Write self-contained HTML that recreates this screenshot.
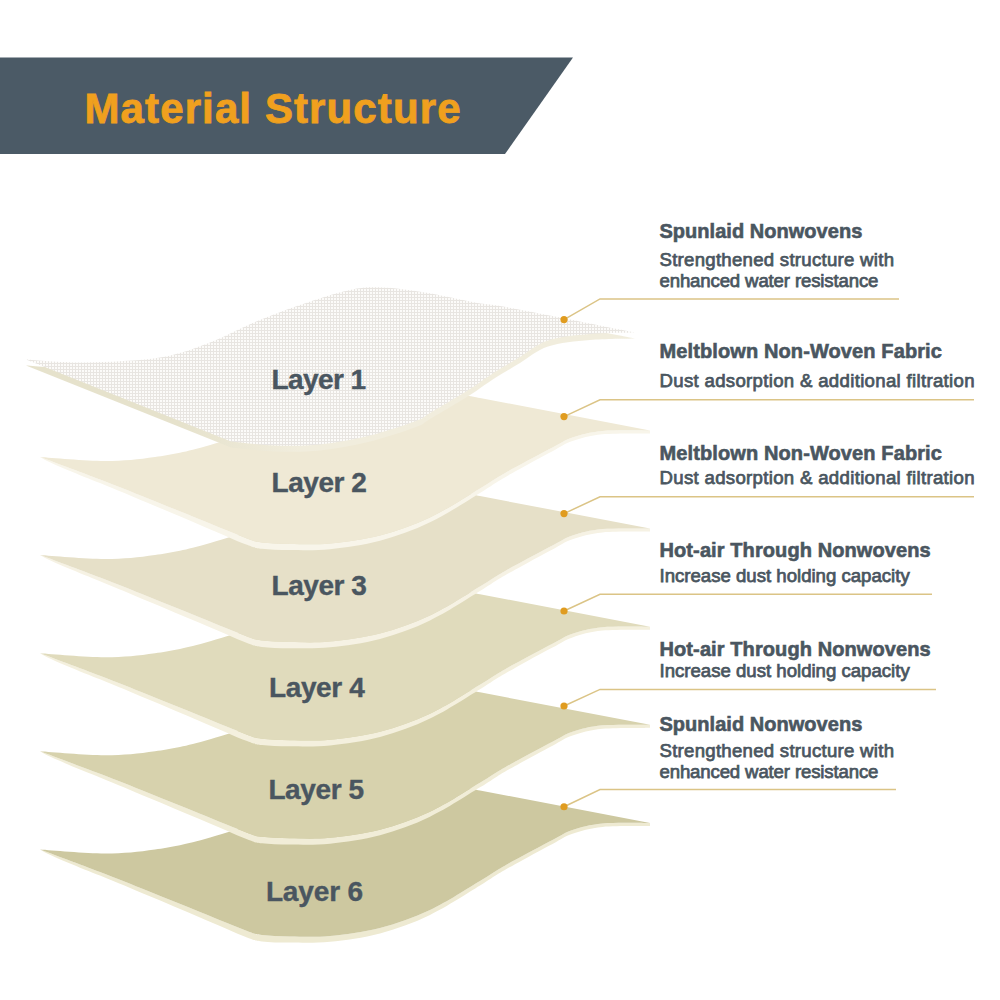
<!DOCTYPE html>
<html><head><meta charset="utf-8"><style>
html,body{margin:0;padding:0;background:#fff;}
body{width:1000px;height:1000px;overflow:hidden;position:relative;}
svg{position:absolute;left:0;top:0;}
text{font-family:"Liberation Sans",sans-serif;}
.title{font-size:42px;font-weight:bold;fill:#f0a01e;stroke:#f0a01e;stroke-width:0.8px;}
.lab{font-size:28px;font-weight:bold;fill:#4a5660;stroke:#4a5660;stroke-width:0.4px;}
.tt{font-size:20px;font-weight:bold;fill:#4a5660;stroke:#4a5660;stroke-width:0.6px;}
.ds{font-size:18.6px;fill:#4a5660;stroke:#4a5660;stroke-width:0.75px;}
</style></head><body>
<svg width="1000" height="1000" viewBox="0 0 1000 1000">
<defs>
<pattern id="mesh" width="3" height="3" patternUnits="userSpaceOnUse">
<rect width="3" height="3" fill="#e8e5e1"/>
<rect x="1" y="1" width="2" height="2" fill="#fcfbf9"/>
</pattern>
<linearGradient id="l1edge" gradientUnits="userSpaceOnUse" x1="180" y1="0" x2="300" y2="0">
<stop offset="0" stop-color="#e6e2cc"/><stop offset="1" stop-color="#f1eddd"/>
</linearGradient>
</defs>
<polygon points="0,57.6 573,57.6 505,154 0,154" fill="#4b5a66"/>
<text x="84.5" y="122.8" class="title" textLength="376" lengthAdjust="spacing">Material Structure</text>
<defs><path id="lay" d="M 40.0 849.5 C 50.8 850.2 85.8 853.5 105.0 853.5 C 124.2 853.5 138.3 851.9 155.0 849.5 C 171.7 847.1 180.8 845.6 205.0 839.0 C 229.2 832.4 270.8 818.5 300.0 810.0 C 329.2 801.5 358.3 792.5 380.0 788.0 C 401.7 783.5 413.3 782.6 430.0 783.0 C 446.7 783.4 471.7 789.2 480.0 790.5 L 650 823 C 642.1 823.1 615.4 822.3 602.5 823.5 C 589.6 824.7 580.8 827.2 572.5 830.0 C 564.2 832.8 562.1 835.0 552.5 840.0 C 542.9 845.0 524.2 855.0 515.0 860.0 C 505.8 865.0 503.3 866.5 497.5 870.0 C 491.7 873.5 491.2 874.3 480.0 881.0 C 468.8 887.7 446.7 902.2 430.0 910.0 C 413.3 917.8 396.7 923.7 380.0 928.0 C 363.3 932.3 345.0 934.6 330.0 936.0 C 315.0 937.4 301.3 936.7 290.0 936.5 C 278.7 936.3 269.2 935.9 262.0 935.0 C 254.8 934.1 257.3 934.8 247.0 931.0 C 236.7 927.2 216.5 918.7 200.0 912.0 C 183.5 905.3 164.7 897.7 148.0 891.0 C 131.3 884.3 118.0 878.9 100.0 872.0 C 82.0 865.1 50.0 853.2 40.0 849.5 Z"/><path id="edg" d="M 40 849.5 C 50.0 855.9 82.0 868.4 100.0 875.6 C 118.0 882.9 131.3 888.6 148.0 895.6 C 164.7 902.5 183.5 910.6 200.0 917.5 C 216.5 924.5 236.7 933.5 247.0 937.4 C 257.3 941.4 254.8 940.5 262.0 941.4 C 269.2 942.3 278.7 942.6 290.0 942.6 C 301.3 942.7 315.0 943.3 330.0 941.8 C 345.0 940.3 363.3 937.8 380.0 933.4 C 396.7 928.9 413.3 922.9 430.0 914.9 C 446.7 906.9 468.8 892.3 480.0 885.5 C 491.2 878.7 491.7 877.9 497.5 874.3 C 503.3 870.8 505.8 869.3 515.0 864.2 C 524.2 859.1 542.9 848.9 552.5 843.9 C 562.1 838.8 564.2 836.5 572.5 833.7 C 580.8 830.9 589.6 828.2 602.5 826.9 C 615.4 825.6 642.1 826.2 650.0 826.0 L 650 823 C 642.1 823.1 615.4 822.3 602.5 823.5 C 589.6 824.7 580.8 827.2 572.5 830.0 C 564.2 832.8 562.1 835.0 552.5 840.0 C 542.9 845.0 524.2 855.0 515.0 860.0 C 505.8 865.0 503.3 866.5 497.5 870.0 C 491.7 873.5 491.2 874.3 480.0 881.0 C 468.8 887.7 446.7 902.2 430.0 910.0 C 413.3 917.8 396.7 923.7 380.0 928.0 C 363.3 932.3 345.0 934.6 330.0 936.0 C 315.0 937.4 301.3 936.7 290.0 936.5 C 278.7 936.3 269.2 935.9 262.0 935.0 C 254.8 934.1 257.3 934.8 247.0 931.0 C 236.7 927.2 216.5 918.7 200.0 912.0 C 183.5 905.3 164.7 897.7 148.0 891.0 C 131.3 884.3 118.0 878.9 100.0 872.0 C 82.0 865.1 50.0 853.2 40.0 849.5 Z"/></defs>
<g transform="translate(0 0.00)"><use href="#edg" fill="#eeead2"/><use href="#lay" fill="#cdc8a0"/></g>
<g transform="translate(0 -98.15)"><use href="#edg" fill="#f1edd8"/><use href="#lay" fill="#d7d2ad"/></g>
<g transform="translate(0 -196.30)"><use href="#edg" fill="#f4f0de"/><use href="#lay" fill="#e0dbbc"/></g>
<g transform="translate(0 -294.45)"><use href="#edg" fill="#f6f2e4"/><use href="#lay" fill="#e6e0c8"/></g>
<g transform="translate(0 -392.60)"><use href="#edg" fill="#f8f5ea"/><use href="#lay" fill="#efe9d5"/></g>
<path d="M 26.0 359.5 C 35.8 360.0 62.7 362.8 85.0 362.5 C 107.3 362.2 139.2 360.8 160.0 357.5 C 180.8 354.2 194.2 348.4 210.0 342.5 C 225.8 336.6 240.0 328.2 255.0 322.0 C 270.0 315.8 284.2 310.3 300.0 305.0 C 315.8 299.7 336.2 292.9 350.0 290.0 C 363.8 287.1 370.0 287.1 382.5 287.5 C 395.0 287.9 409.6 290.0 425.0 292.5 C 440.4 295.0 462.5 300.2 475.0 302.5 C 487.5 304.8 485.8 303.5 500.0 306.0 C 514.2 308.5 540.5 313.7 560.0 317.5 C 579.5 321.3 604.5 326.5 617.0 329.0 C 629.5 331.5 632.0 331.9 635.0 332.5 C 627.5 332.8 604.5 332.7 590.0 334.0 C 575.5 335.3 559.7 336.7 548.0 340.5 C 536.3 344.3 529.3 351.4 520.0 357.0 C 510.7 362.6 500.3 368.7 492.0 374.0 C 483.7 379.3 480.3 382.5 470.0 389.0 C 459.7 395.5 439.0 407.7 430.0 413.0 C 421.0 418.3 426.3 417.2 416.0 421.0 C 405.7 424.8 384.0 432.1 368.0 436.0 C 352.0 439.9 335.5 442.9 320.0 444.5 C 304.5 446.1 289.8 446.0 275.0 445.5 C 260.2 445.0 238.3 442.2 231.0 441.5 Z" transform="translate(0 6)" fill="url(#l1edge)"/>
<path d="M 26.0 359.5 C 35.8 360.0 62.7 362.8 85.0 362.5 C 107.3 362.2 139.2 360.8 160.0 357.5 C 180.8 354.2 194.2 348.4 210.0 342.5 C 225.8 336.6 240.0 328.2 255.0 322.0 C 270.0 315.8 284.2 310.3 300.0 305.0 C 315.8 299.7 336.2 292.9 350.0 290.0 C 363.8 287.1 370.0 287.1 382.5 287.5 C 395.0 287.9 409.6 290.0 425.0 292.5 C 440.4 295.0 462.5 300.2 475.0 302.5 C 487.5 304.8 485.8 303.5 500.0 306.0 C 514.2 308.5 540.5 313.7 560.0 317.5 C 579.5 321.3 604.5 326.5 617.0 329.0 C 629.5 331.5 632.0 331.9 635.0 332.5 C 627.5 332.8 604.5 332.7 590.0 334.0 C 575.5 335.3 559.7 336.7 548.0 340.5 C 536.3 344.3 529.3 351.4 520.0 357.0 C 510.7 362.6 500.3 368.7 492.0 374.0 C 483.7 379.3 480.3 382.5 470.0 389.0 C 459.7 395.5 439.0 407.7 430.0 413.0 C 421.0 418.3 426.3 417.2 416.0 421.0 C 405.7 424.8 384.0 432.1 368.0 436.0 C 352.0 439.9 335.5 442.9 320.0 444.5 C 304.5 446.1 289.8 446.0 275.0 445.5 C 260.2 445.0 238.3 442.2 231.0 441.5 Z" fill="url(#mesh)"/>
<text x="271.6" y="389.4" class="lab" textLength="94.6" lengthAdjust="spacing">Layer 1</text>
<text x="271.6" y="492.2" class="lab" textLength="95.2" lengthAdjust="spacing">Layer 2</text>
<text x="271.6" y="594.8" class="lab" textLength="95.2" lengthAdjust="spacing">Layer 3</text>
<text x="269" y="696.8" class="lab" textLength="95.8" lengthAdjust="spacing">Layer 4</text>
<text x="268.4" y="799.4" class="lab" textLength="95.8" lengthAdjust="spacing">Layer 5</text>
<text x="265.9" y="901" class="lab" textLength="97.2" lengthAdjust="spacing">Layer 6</text>
<polyline points="564,319.6 600,298.9 899,298.9" fill="none" stroke="#dbc486" stroke-width="1.5"/>
<circle cx="564" cy="319.6" r="3.6" fill="#e09c20"/>
<polyline points="564,416.6 600,399.8 974,399.8" fill="none" stroke="#dbc486" stroke-width="1.5"/>
<circle cx="564" cy="416.6" r="3.6" fill="#e09c20"/>
<polyline points="564,513.6 600,496.8 974,496.8" fill="none" stroke="#dbc486" stroke-width="1.5"/>
<circle cx="564" cy="513.6" r="3.6" fill="#e09c20"/>
<polyline points="564,611 600,594.2 932,594.2" fill="none" stroke="#dbc486" stroke-width="1.5"/>
<circle cx="564" cy="611" r="3.6" fill="#e09c20"/>
<polyline points="564,706 600,689.4 936,689.4" fill="none" stroke="#dbc486" stroke-width="1.5"/>
<circle cx="564" cy="706" r="3.6" fill="#e09c20"/>
<polyline points="564,806.75 600,789.5 896,789.5" fill="none" stroke="#dbc486" stroke-width="1.5"/>
<circle cx="564" cy="806.75" r="3.6" fill="#e09c20"/>
<text x="659.5" y="238.4" class="tt" textLength="202.8" lengthAdjust="spacing">Spunlaid Nonwovens</text>
<text x="659.5" y="265.7" class="ds" textLength="234.5" lengthAdjust="spacing">Strengthened structure with</text>
<text x="659.5" y="286.5" class="ds" textLength="218.9" lengthAdjust="spacing">enhanced water resistance</text>
<text x="659.5" y="358.0" class="tt" textLength="282.4" lengthAdjust="spacing">Meltblown Non-Woven Fabric</text>
<text x="659.5" y="386.7" class="ds" textLength="315.0" lengthAdjust="spacing">Dust adsorption &amp; additional filtration</text>
<text x="659.5" y="459.5" class="tt" textLength="282.4" lengthAdjust="spacing">Meltblown Non-Woven Fabric</text>
<text x="659.5" y="484.0" class="ds" textLength="315.0" lengthAdjust="spacing">Dust adsorption &amp; additional filtration</text>
<text x="659.5" y="557.3" class="tt" textLength="271.2" lengthAdjust="spacing">Hot-air Through Nonwovens</text>
<text x="659.5" y="581.8" class="ds" textLength="250.2" lengthAdjust="spacing">Increase dust holding capacity</text>
<text x="659.5" y="656.0" class="tt" textLength="271.2" lengthAdjust="spacing">Hot-air Through Nonwovens</text>
<text x="659.5" y="677.0" class="ds" textLength="250.2" lengthAdjust="spacing">Increase dust holding capacity</text>
<text x="659.5" y="730.8" class="tt" textLength="202.8" lengthAdjust="spacing">Spunlaid Nonwovens</text>
<text x="659.5" y="756.7" class="ds" textLength="234.5" lengthAdjust="spacing">Strengthened structure with</text>
<text x="659.5" y="777.7" class="ds" textLength="218.9" lengthAdjust="spacing">enhanced water resistance</text>
</svg>
</body></html>
